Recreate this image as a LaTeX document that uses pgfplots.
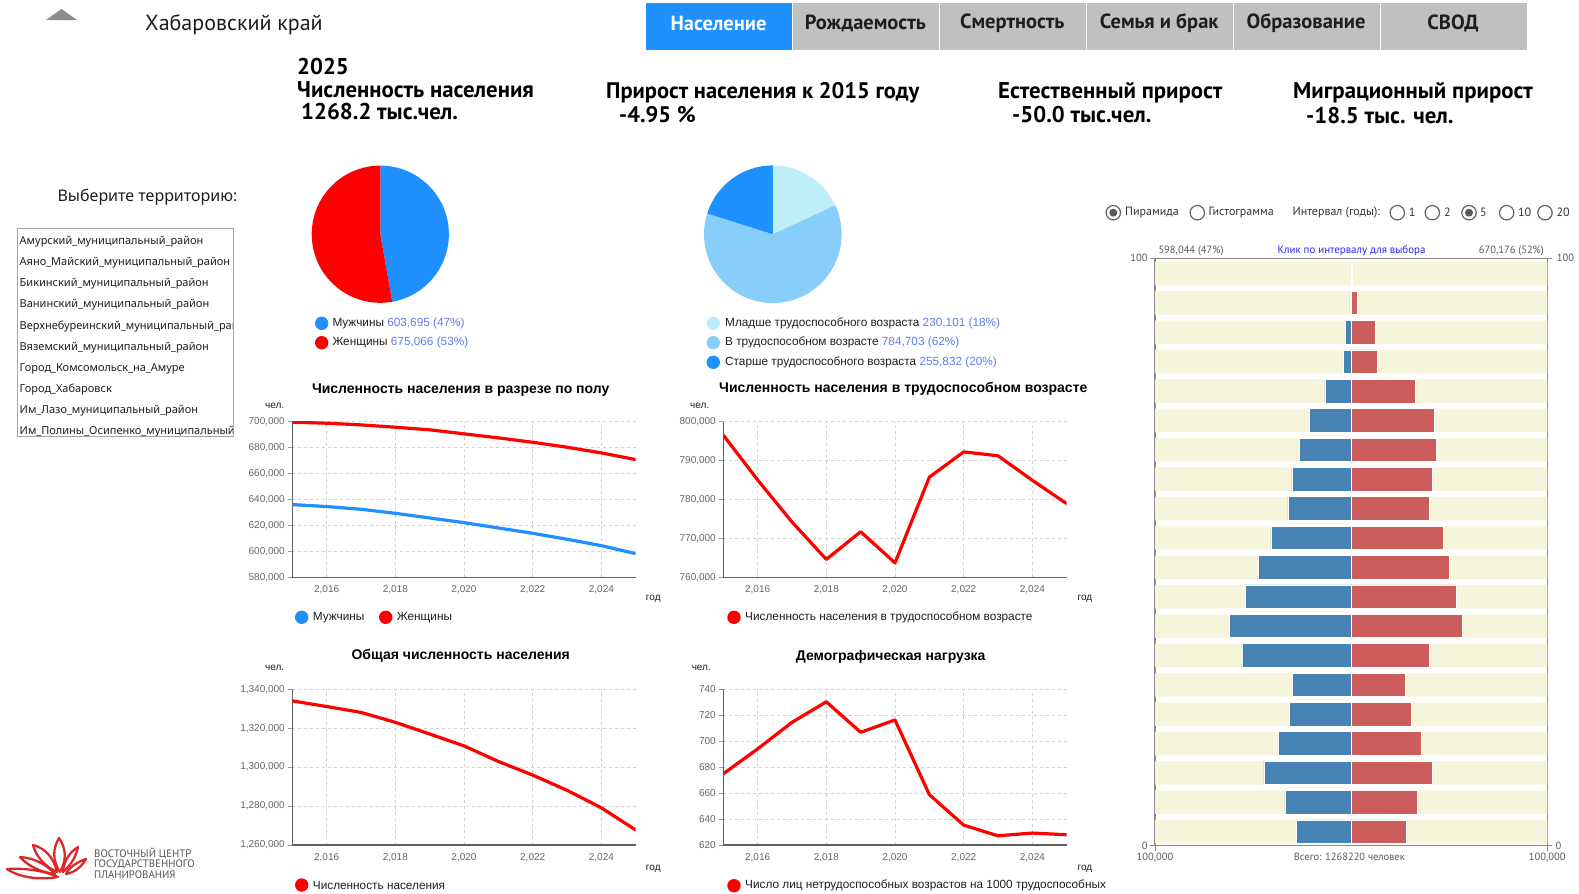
\documentclass[border=0pt]{standalone}
\usepackage{pgfplots}
\usepackage{pgfplotstable}
\pgfplotsset{compat=1.18}
\usepackage{fontspec}
\setmainfont{Liberation Sans}
\newfontfamily\pt{PT Sans}
\newfontfamily\noto{Noto Sans}
\newcommand\fs[1]{\fontsize{#1bp}{#1bp}\selectfont}
\definecolor{dblue}{RGB}{30,144,255}
\definecolor{lblue}{RGB}{135,206,250}
\definecolor{pblue}{RGB}{190,238,247}
\definecolor{valc}{RGB}{95,125,235}
\definecolor{steel}{RGB}{70,130,180}
\definecolor{indr}{RGB}{205,92,92}
\definecolor{bge}{RGB}{245,245,220}
\definecolor{tabg}{RGB}{192,192,192}
\definecolor{txt}{RGB}{30,30,30}
\definecolor{gtxt}{RGB}{85,85,85}
\definecolor{logor}{RGB}{220,40,40}

\pgfplotstableread{
year men women
2015 636000 699500
2016 634500 698700
2017 632400 697400
2018 629300 695600
2019 625700 693600
2020 622100 690500
2021 618000 687400
2022 613900 684000
2023 609300 680200
2024 604400 675800
2025 598200 670700
}\gender
\pgfplotstableread{
year work
2015 796500
2016 785000
2017 774200
2018 764600
2019 771700
2020 763700
2021 785700
2022 792200
2023 791200
2024 784900
2025 778900
}\working
\pgfplotstableread{
year total
2015 1334000
2016 1331100
2017 1328100
2018 1323000
2019 1317000
2020 1310900
2021 1302900
2022 1295900
2023 1288100
2024 1279100
2025 1267700
}\poptotal
\pgfplotstableread{
year load
2015 674.9
2016 694.0
2017 714.5
2018 730.3
2019 706.8
2020 716.3
2021 658.8
2022 635.3
2023 627.1
2024 629.2
2025 627.9
}\dload
\pgfplotstableread{
pos men women
2.4 28050 27880
7.4 33830 33490
12.4 44540 41310
17.4 37230 35530
22.4 31620 30600
27.4 30090 27540
32.4 55420 39780
37.4 62220 56610
42.4 54060 53550
47.4 47090 49810
52.4 40970 46750
57.4 32300 39780
62.4 30260 41140
67.4 26350 43180
72.4 21250 42160
77.4 13430 32640
82.4 4080 13260
87.4 3060 12400
92.4 680 3060
97.4 0 400
}\pyr

\pgfplotsset{
  linech/.style={
    scale only axis, width=343.4bp, height=155.8bp, anchor=south west,
    xmin=2015, xmax=2025, xtick={2016,2018,2020,2022,2024},
    grid=major, major grid style={dashed, color=black!18, line width=0.8bp},
    axis x line*=bottom, axis y line*=left,
    axis line style={-, color=black!62, line width=1.6bp},
    xtick style={draw=none},
    ytick style={color=black!40, line width=0.8bp},
    tick align=outside, major tick length=4bp,
    tick label style={font=\fs{10}, text=black!60},
    xticklabel style={yshift=-1bp},
    scaled y ticks=false, scaled x ticks=false,
    /pgf/number format/fixed, /pgf/number format/precision=0,
    /pgf/number format/1000 sep={,},
    /pgf/number format/assume math mode=true,
  }
}

\begin{document}
\begin{tikzpicture}
\fill[white] (0,0) rectangle (1579bp,-894bp);
\path[use as bounding box] (0,0) rectangle (1579bp,-894bp);
\begin{scope}[x=1bp,y=-1bp]
% header
\fill[black!45] (46,20) -- (77,20) -- (61.5,9) -- cycle;
\node[anchor=west, inner sep=0, text=txt] at (145,24.5) {\pt\fs{22}Хабаровский край};
% tabs
\fill[dblue] (645.5,3) rectangle (791.5,50.3);
\foreach \i in {1,...,5} {
  \fill[tabg] (645.5+146.9*\i+1,3) rectangle (645.5+146.9*\i+146.9,50.3);
}
\node[text=white] at (718.5,23) {\pt\bfseries\fs{20.5}Население};
\node[text=txt] at (865.4,23) {\pt\bfseries\fs{20.5}Рождаемость};
\node[text=txt] at (1012.3,23) {\pt\bfseries\fs{20.5}Смертность};
\node[text=txt] at (1159.2,23) {\pt\bfseries\fs{20.5}Семья и брак};
\node[text=txt] at (1306.1,23) {\pt\bfseries\fs{20.5}Образование};
\node[text=txt] at (1453,23) {\pt\bfseries\fs{20.5}СВОД};
% KPIs
\node[anchor=west, inner sep=0, text=black] at (297,67) {\pt\bfseries\fs{22.8}2025};
\node[anchor=west, inner sep=0, text=black] at (297,89.3) {\pt\bfseries\fs{22.8}Численность населения};
\node[anchor=west, inner sep=0, text=black] at (301,111.5) {\pt\bfseries\fs{22.8}1268.2 тыс.чел.};
\node[anchor=west, inner sep=0, text=black] at (606,92.3) {\pt\bfseries\fs{22.5}Прирост населения к 2015 году};
\node[anchor=west, inner sep=0, text=black] at (619,114.5) {\pt\bfseries\fs{22.5}-4.95 \%};
\node[anchor=west, inner sep=0, text=black] at (998,92.3) {\pt\bfseries\fs{22.8}Естественный прирост};
\node[anchor=west, inner sep=0, text=black] at (1012,114.5) {\pt\bfseries\fs{22.8}-50.0 тыс.чел.};
\node[anchor=west, inner sep=0, text=black] at (1293,92.3) {\pt\bfseries\fs{22.8}Миграционный прирост};
\node[anchor=west, inner sep=0, text=black] at (1306,115.5) {\pt\bfseries\fs{22.8}-18.5 тыс. чел.};
% territory list
\node[anchor=west, inner sep=0, text=txt] at (57.4,197.4) {\noto\fs{16}Выберите территорию:};
\begin{scope}
\clip (17,228.6) rectangle (233.6,436);
\foreach \t [count=\k] in {Амурский\_муниципальный\_район, Аяно\_Майский\_муниципальный\_район, Бикинский\_муниципальный\_район, Ванинский\_муниципальный\_район, Верхнебуреинский\_муниципальный\_район, Вяземский\_муниципальный\_район, Город\_Комсомольск\_на\_Амуре, Город\_Хабаровск, Им\_Лазо\_муниципальный\_район, Им\_Полины\_Осипенко\_муниципальный\_район} {
  \node[anchor=west, inner sep=0, text=txt] at (19.5,220.6+21.15*\k) {\noto\fs{11}\t};
}
\end{scope}
\draw[black!35, line width=1bp] (17,228.6) rectangle (233.6,436);
% pie legends
\fill[dblue] (321.7,323.3) circle (6.7);
\node[anchor=west, inner sep=0] at (332.3,323.3) {\fs{11.8}\textcolor{txt}{Мужчины} \textcolor{valc}{603,695 (47\%)}};
\fill[red] (321.7,342.7) circle (6.7);
\node[anchor=west, inner sep=0] at (332.3,342.7) {\fs{11.8}\textcolor{txt}{Женщины} \textcolor{valc}{675,066 (53\%)}};
\fill[pblue] (713.3,323.3) circle (6.7);
\node[anchor=west, inner sep=0] at (725,323.3) {\fs{11.8}\textcolor{txt}{Младше трудоспособного возраста} \textcolor{valc}{230,101 (18\%)}};
\fill[lblue] (713.3,342.7) circle (6.7);
\node[anchor=west, inner sep=0] at (725,342.7) {\fs{11.8}\textcolor{txt}{В трудоспособном возрасте} \textcolor{valc}{784,703 (62\%)}};
\fill[dblue] (713.3,362.3) circle (6.7);
\node[anchor=west, inner sep=0] at (725,362.3) {\fs{11.8}\textcolor{txt}{Старше трудоспособного возраста} \textcolor{valc}{255,832 (20\%)}};
% chart titles and labels
\node[text=black] at (460.7,390) {\bfseries\fs{14}Численность населения в разрезе по полу};
\node[text=black] at (903.3,389.3) {\bfseries\fs{14}Численность населения в трудоспособном возрасте};
\node[text=black] at (460.7,656) {\bfseries\fs{14}Общая численность населения};
\node[text=black] at (890.7,657.3) {\bfseries\fs{14}Демографическая нагрузка};
\foreach \p in {(274.7,406),(699.7,406),(274.7,667.7),(701.3,667.7)} {
  \node[text=txt] at \p {\fs{10}чел.};
}
\foreach \p in {(653.3,599.3),(1085,599.3),(653.3,869.3),(1085,869.3)} {
  \node[text=txt] at \p {\fs{10}год};
}
% chart legends
\fill[dblue] (301.7,617.3) circle (6.7);
\node[anchor=west, inner sep=0, text=txt] at (312.7,617.3) {\fs{11.8}Мужчины};
\fill[red] (385.7,617.3) circle (6.7);
\node[anchor=west, inner sep=0, text=txt] at (396.7,617.3) {\fs{11.8}Женщины};
\fill[red] (734,617.3) circle (6.7);
\node[anchor=west, inner sep=0, text=txt] at (745,617.3) {\fs{11.8}Численность населения в трудоспособном возрасте};
\fill[red] (301.7,885) circle (6.7);
\node[anchor=west, inner sep=0, text=txt] at (312.7,885) {\fs{11.8}Численность населения};
\fill[red] (734,885.7) circle (6.7);
\node[anchor=west, inner sep=0, text=txt] at (745,885.7) {\fs{11.8}Число лиц нетрудоспособных возрастов на 1000 трудоспособных};
% radio buttons
\foreach \cx in {1113.3,1197.3,1397.3,1432.3,1469,1506.7,1545} {
  \draw[black!60, line width=1.2bp] (\cx,212.7) circle (7.2);
}
\fill[black!65] (1113.3,212.7) circle (4);
\fill[black!65] (1469,212.7) circle (4);
\node[anchor=west, inner sep=0, text=black!80] at (1125,212.7) {\pt\fs{12}Пирамида};
\node[anchor=west, inner sep=0, text=black!80] at (1208.5,212.7) {\pt\fs{12}Гистограмма};
\node[anchor=west, inner sep=0, text=black!80] at (1292.5,212.7) {\pt\fs{12}Интервал (годы):};
\node[anchor=west, inner sep=0, text=black!80] at (1408.7,212.7) {\pt\fs{12}1};
\node[anchor=west, inner sep=0, text=black!80] at (1444,212.7) {\pt\fs{12}2};
\node[anchor=west, inner sep=0, text=black!80] at (1480,212.7) {\pt\fs{12}5};
\node[anchor=west, inner sep=0, text=black!80] at (1518,212.7) {\pt\fs{12}10};
\node[anchor=west, inner sep=0, text=black!80] at (1556.5,212.7) {\pt\fs{12}20};
% pyramid labels
\node[anchor=west, inner sep=0, text=black!65] at (1158.3,250.7) {\pt\fs{10.5}598,044 (47\%)};
\node[inner sep=0, text=blue!85!white] at (1351.5,250.7) {\pt\fs{10.9}Клик по интервалу для выбора};
\node[anchor=east, inner sep=0, text=black!65] at (1544,250.7) {\pt\fs{10.5}670,176 (52\%)};
\node[anchor=west, inner sep=0, text=black!65] at (1556.7,258.3) {\pt\fs{10.5}100};
\node[anchor=west, inner sep=0, text=black!65] at (1555.5,845.7) {\pt\fs{10.5}0};
\node[inner sep=0, text=black!65] at (1349.3,857) {\pt\fs{10.5}Всего: 1268220 человек};
% logo
\node[anchor=west, inner sep=0, text=gtxt] at (94,853) {\pt\fs{10.8}ВОСТОЧНЫЙ ЦЕНТР};
\node[anchor=west, inner sep=0, text=gtxt] at (94,864) {\pt\fs{10.8}ГОСУДАРСТВЕННОГО};
\node[anchor=west, inner sep=0, text=gtxt] at (94,875) {\pt\fs{10.8}ПЛАНИРОВАНИЯ};
\begin{scope}[logor, line width=2.3bp, line join=round, line cap=round]
% central petal
\draw (60,872) .. controls (52,860) and (53,848) .. (59,838) .. controls (66,848) and (67,860) .. (60,872);
% left inner petal
\draw (57,872) .. controls (44,866) and (36,856) .. (33,845) .. controls (45,848) and (54,858) .. (57,872);
% right inner petal
\draw (63,872) .. controls (72,864) and (76,856) .. (78,847) .. controls (70,852) and (64,860) .. (63,872);
% left outer petal
\draw (55,874) .. controls (40,872) and (28,866) .. (20,857) .. controls (34,858) and (46,864) .. (55,874);
% right outer petal
\draw (66,874) .. controls (76,872) and (82,866) .. (86,859) .. controls (78,862) and (70,866) .. (66,874);
% bottom left leaf
\draw (58,877) .. controls (40,880) and (20,878) .. (7,869) .. controls (24,868) and (42,870) .. (58,877);
\end{scope}
\end{scope}
% pies
\begin{scope}[shift={(380.3bp,-234.2bp)}]
\pgfmathsetmacro\aM{603.695/(603.695+675.066)*360}
\fill[dblue] (0,0) -- (90:68.6bp) arc[start angle=90, end angle=90-\aM, radius=68.6bp] -- cycle;
\fill[red] (0,0) -- (90-\aM:68.6bp) arc[start angle=90-\aM, end angle=-270, radius=68.6bp] -- cycle;
\end{scope}
\begin{scope}[shift={(772.8bp,-234.2bp)}]
\pgfmathsetmacro\tot{230.101+784.703+255.832}
\pgfmathsetmacro\aA{230.101/\tot*360}
\pgfmathsetmacro\aB{784.703/\tot*360}
\fill[pblue] (0,0) -- (90:68.8bp) arc[start angle=90, end angle=90-\aA, radius=68.8bp] -- cycle;
\fill[lblue] (0,0) -- (90-\aA:68.8bp) arc[start angle=90-\aA, end angle=90-\aA-\aB, radius=68.8bp] -- cycle;
\fill[dblue] (0,0) -- (90-\aA-\aB:68.8bp) arc[start angle=90-\aA-\aB, end angle=-270, radius=68.8bp] -- cycle;
\end{scope}
% line charts
\begin{axis}[linech, at={(292.3bp,-577.3bp)}, ymin=580000, ymax=700000, ytick distance=20000]
\addplot[dblue, line width=3.2bp, line join=round] table[x=year, y=men]{\gender};
\addplot[red, line width=3.2bp, line join=round] table[x=year, y=women]{\gender};
\end{axis}
\begin{axis}[linech, at={(723.3bp,-577.3bp)}, ymin=760000, ymax=800000, ytick distance=10000]
\addplot[red, line width=3.2bp, line join=round] table[x=year, y=work]{\working};
\end{axis}
\begin{axis}[linech, at={(292.3bp,-845bp)}, ymin=1260000, ymax=1340000, ytick distance=20000]
\addplot[red, line width=3.2bp, line join=round] table[x=year, y=total]{\poptotal};
\end{axis}
\begin{axis}[linech, at={(723.3bp,-845bp)}, ymin=620, ymax=740, ytick distance=20]
\addplot[red, line width=3.2bp, line join=round] table[x=year, y=load]{\dload};
\end{axis}
% pyramid
\begin{axis}[at={(1155bp,-845.7bp)}, anchor=south west, scale only axis,
  width=392.3bp, height=587.4bp, xmin=-100000, xmax=100000, ymin=0, ymax=100,
  axis line style={black!45, line width=1.2bp},
  xtick={-100000,100000}, xticklabels={100{,}000,100{,}000}, xtick pos=bottom,
  ytick={0,100}, ytick pos=both, yticklabel pos=left,
  scaled x ticks=false, scaled y ticks=false,
  tick align=outside, major tick length=5bp, tick style={black!45, line width=1bp},
  tick label style={font=\pt\fs{10.5}, text=black!65},
  xticklabel style={yshift=1bp}, yticklabel style={xshift=1bp},
  /pgf/number format/fixed, /pgf/number format/precision=0,
  /pgf/number format/assume math mode=true]
\addplot[xbar, bar shift=0pt, bar width=4, fill=bge, draw=none] table[x expr=100000, y=pos]{\pyr};
\addplot[xbar, bar shift=0pt, bar width=4, fill=bge, draw=none] table[x expr=-100000, y=pos]{\pyr};
\addplot[xbar, bar shift=0pt, bar width=4, fill=steel, draw=white, line width=0.6bp] table[x expr=-\thisrow{men}, y=pos]{\pyr};
\addplot[xbar, bar shift=0pt, bar width=4, fill=indr, draw=white, line width=0.6bp] table[x=women, y=pos]{\pyr};
\end{axis}
\end{tikzpicture}
\end{document}
